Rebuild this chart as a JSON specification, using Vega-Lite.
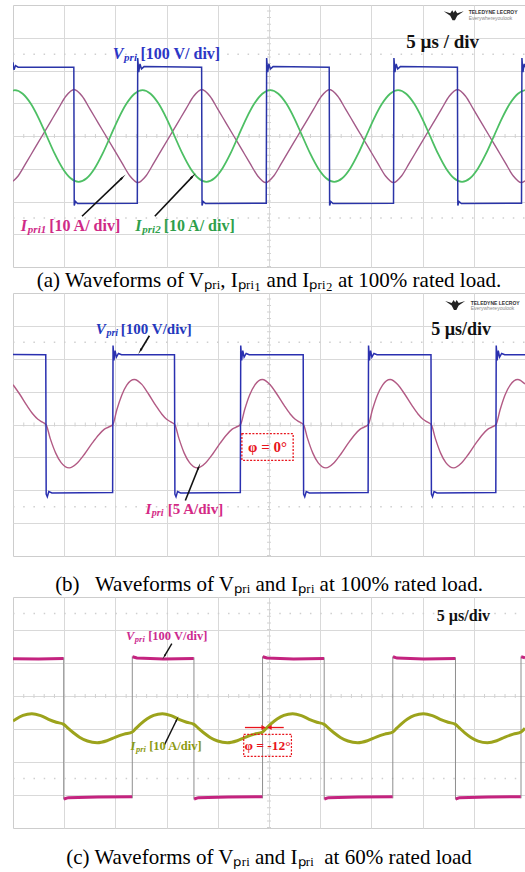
{
"$schema": "https://vega.github.io/schema/vega-lite/v6.json",
"background": "white",
"padding": {"left": 12, "top": 4, "right": 0, "bottom": 0},
"spacing": 0,
"config": {
  "view": {"stroke": "#cdcdcd", "strokeWidth": 1},
  "axis": {"domain": false, "ticks": false, "labels": false, "title": null, "grid": true, "gridColor": "#d9d9d9", "gridWidth": 1},
  "title": {"font": "Liberation Serif", "fontSize": 21, "fontWeight": "normal", "color": "#000000", "anchor": "middle"},
  "concat": {"spacing": 0}
},
"datasets": {
  "va": [
    {"t":0,"y":2.25},{"t":0.1,"y":2.02},{"t":0.25,"y":2.15},{"t":0.5,"y":2.1},{"t":5.94,"y":2.1},{"t":5.98,"y":-2.12},{"t":6.1,"y":-2.0},{"t":6.3,"y":-2.06},
    {"t":12.14,"y":-2.05},{"t":12.18,"y":2.38},{"t":12.28,"y":1.95},{"t":12.4,"y":2.2},{"t":12.55,"y":2.05},{"t":12.8,"y":2.12},
    {"t":18.42,"y":2.1},{"t":18.46,"y":-2.12},{"t":18.58,"y":-2.0},{"t":18.8,"y":-2.06},
    {"t":24.73,"y":-2.05},{"t":24.77,"y":2.38},{"t":24.87,"y":1.95},{"t":24.99,"y":2.2},{"t":25.14,"y":2.05},{"t":25.4,"y":2.12},
    {"t":30.88,"y":2.1},{"t":30.92,"y":-2.12},{"t":31.04,"y":-2.0},{"t":31.25,"y":-2.06},
    {"t":37.16,"y":-2.05},{"t":37.2,"y":2.38},{"t":37.3,"y":1.95},{"t":37.42,"y":2.2},{"t":37.57,"y":2.05},{"t":37.83,"y":2.12},
    {"t":43.4,"y":2.1},{"t":43.44,"y":-2.12},{"t":43.56,"y":-2.0},{"t":43.78,"y":-2.06},
    {"t":49.66,"y":-2.05},{"t":49.7,"y":2.38},{"t":49.8,"y":1.95},{"t":49.92,"y":2.2},{"t":50,"y":2.1}
  ],
  "i1a": [
    {"t":0,"y":-1.38},{"t":0.50,"y":-1.22},{"t":1.28,"y":-0.82},{"t":2.06,"y":-0.41},{"t":2.84,"y":0},{"t":3.62,"y":0.41},{"t":4.40,"y":0.82},{"t":5.18,"y":1.22},
    {"t":5.96,"y":1.42},{"t":6.74,"y":1.22},{"t":7.52,"y":0.82},{"t":8.30,"y":0.41},{"t":9.08,"y":0},{"t":9.86,"y":-0.41},{"t":10.64,"y":-0.82},{"t":11.42,"y":-1.22},
    {"t":12.20,"y":-1.42},{"t":12.98,"y":-1.22},{"t":13.76,"y":-0.82},{"t":14.54,"y":-0.41},{"t":15.32,"y":0},{"t":16.10,"y":0.41},{"t":16.88,"y":0.82},{"t":17.66,"y":1.22},
    {"t":18.44,"y":1.42},{"t":19.22,"y":1.22},{"t":20.00,"y":0.82},{"t":20.78,"y":0.41},{"t":21.56,"y":0},{"t":22.34,"y":-0.41},{"t":23.12,"y":-0.82},{"t":23.90,"y":-1.22},
    {"t":24.68,"y":-1.42},{"t":25.46,"y":-1.22},{"t":26.24,"y":-0.82},{"t":27.02,"y":-0.41},{"t":27.80,"y":0},{"t":28.58,"y":0.41},{"t":29.36,"y":0.82},{"t":30.14,"y":1.22},
    {"t":30.92,"y":1.42},{"t":31.70,"y":1.22},{"t":32.48,"y":0.82},{"t":33.26,"y":0.41},{"t":34.04,"y":0},{"t":34.82,"y":-0.41},{"t":35.60,"y":-0.82},{"t":36.38,"y":-1.22},
    {"t":37.16,"y":-1.42},{"t":37.94,"y":-1.22},{"t":38.72,"y":-0.82},{"t":39.50,"y":-0.41},{"t":40.28,"y":0},{"t":41.06,"y":0.41},{"t":41.84,"y":0.82},{"t":42.62,"y":1.22},
    {"t":43.40,"y":1.42},{"t":44.18,"y":1.22},{"t":44.96,"y":0.82},{"t":45.74,"y":0.41},{"t":46.52,"y":0},{"t":47.30,"y":-0.41},{"t":48.08,"y":-0.82},{"t":48.86,"y":-1.22},
    {"t":49.64,"y":-1.42},{"t":50,"y":-1.37}
  ],
  "i2a": [
    {"t":0,"y":1.38},{"t":0.17,"y":1.40},{"t":0.95,"y":1.29},{"t":1.73,"y":0.99},{"t":2.51,"y":0.54},{"t":3.29,"y":0},{"t":4.07,"y":-0.54},{"t":4.85,"y":-0.99},
    {"t":5.63,"y":-1.29},{"t":6.41,"y":-1.40},{"t":7.19,"y":-1.29},{"t":7.97,"y":-0.99},{"t":8.75,"y":-0.54},{"t":9.53,"y":0},{"t":10.31,"y":0.54},{"t":11.09,"y":0.99},
    {"t":11.87,"y":1.29},{"t":12.65,"y":1.40},{"t":13.43,"y":1.29},{"t":14.21,"y":0.99},{"t":14.99,"y":0.54},{"t":15.77,"y":0},{"t":16.55,"y":-0.54},{"t":17.33,"y":-0.99},
    {"t":18.11,"y":-1.29},{"t":18.89,"y":-1.40},{"t":19.67,"y":-1.29},{"t":20.45,"y":-0.99},{"t":21.23,"y":-0.54},{"t":22.01,"y":0},{"t":22.79,"y":0.54},{"t":23.57,"y":0.99},
    {"t":24.35,"y":1.29},{"t":25.13,"y":1.40},{"t":25.91,"y":1.29},{"t":26.69,"y":0.99},{"t":27.47,"y":0.54},{"t":28.25,"y":0},{"t":29.03,"y":-0.54},{"t":29.81,"y":-0.99},
    {"t":30.59,"y":-1.29},{"t":31.37,"y":-1.40},{"t":32.15,"y":-1.29},{"t":32.93,"y":-0.99},{"t":33.71,"y":-0.54},{"t":34.49,"y":0},{"t":35.27,"y":0.54},{"t":36.05,"y":0.99},
    {"t":36.83,"y":1.29},{"t":37.61,"y":1.40},{"t":38.39,"y":1.29},{"t":39.17,"y":0.99},{"t":39.95,"y":0.54},{"t":40.73,"y":0},{"t":41.51,"y":-0.54},{"t":42.29,"y":-0.99},
    {"t":43.07,"y":-1.29},{"t":43.85,"y":-1.40},{"t":44.63,"y":-1.29},{"t":45.41,"y":-0.99},{"t":46.19,"y":-0.54},{"t":46.97,"y":0},{"t":47.75,"y":0.54},{"t":48.53,"y":0.99},
    {"t":49.31,"y":1.29},{"t":50,"y":1.40}
  ],
  "vb": [
    {"t":0,"y":2.13},{"t":3.2,"y":2.12},{"t":3.24,"y":-2.12},{"t":3.35,"y":-2.2},{"t":3.5,"y":-2.04},{"t":3.8,"y":-2.08},
    {"t":9.73,"y":-2.07},{"t":9.77,"y":2.4},{"t":9.86,"y":1.95},{"t":9.97,"y":2.25},{"t":10.1,"y":2.05},{"t":10.3,"y":2.16},{"t":10.6,"y":2.12},
    {"t":15.77,"y":2.12},{"t":15.81,"y":-2.12},{"t":15.92,"y":-2.2},{"t":16.07,"y":-2.04},{"t":16.37,"y":-2.08},
    {"t":22.2,"y":-2.07},{"t":22.24,"y":2.4},{"t":22.33,"y":1.95},{"t":22.44,"y":2.25},{"t":22.57,"y":2.05},{"t":22.77,"y":2.16},{"t":23.07,"y":2.12},
    {"t":28.34,"y":2.12},{"t":28.38,"y":-2.12},{"t":28.49,"y":-2.2},{"t":28.64,"y":-2.04},{"t":28.94,"y":-2.08},
    {"t":34.68,"y":-2.07},{"t":34.72,"y":2.4},{"t":34.81,"y":1.95},{"t":34.92,"y":2.25},{"t":35.05,"y":2.05},{"t":35.25,"y":2.16},{"t":35.55,"y":2.12},
    {"t":40.82,"y":2.12},{"t":40.86,"y":-2.12},{"t":40.97,"y":-2.2},{"t":41.12,"y":-2.04},{"t":41.42,"y":-2.08},
    {"t":47.15,"y":-2.07},{"t":47.19,"y":2.4},{"t":47.28,"y":1.95},{"t":47.39,"y":2.25},{"t":47.52,"y":2.05},{"t":47.72,"y":2.16},{"t":48.02,"y":2.12},{"t":50,"y":2.12}
  ],
  "ib": [
    {"t":0,"y":1.21},{"t":0.66,"y":0.92},{"t":1.35,"y":0.58},{"t":1.94,"y":0.32},{"t":2.43,"y":0.16},{"t":2.82,"y":0.08},{"t":3.22,"y":0},
    {"t":3.64,"y":-0.43},{"t":4.17,"y":-0.87},{"t":4.70,"y":-1.16},{"t":5.49,"y":-1.32},{"t":6.28,"y":-1.17},{"t":7.01,"y":-0.89},{"t":7.75,"y":-0.56},{"t":8.38,"y":-0.31},{"t":8.90,"y":-0.15},{"t":9.33,"y":-0.08},{"t":9.75,"y":0},
    {"t":10.14,"y":0.45},{"t":10.63,"y":0.90},{"t":11.11,"y":1.20},{"t":11.85,"y":1.37},{"t":12.58,"y":1.22},{"t":13.25,"y":0.92},{"t":13.94,"y":0.58},{"t":14.52,"y":0.32},{"t":15.00,"y":0.16},{"t":15.40,"y":0.08},{"t":15.79,"y":0},
    {"t":16.21,"y":-0.43},{"t":16.72,"y":-0.87},{"t":17.24,"y":-1.16},{"t":18.02,"y":-1.32},{"t":18.80,"y":-1.17},{"t":19.52,"y":-0.89},{"t":20.25,"y":-0.56},{"t":20.87,"y":-0.31},{"t":21.38,"y":-0.15},{"t":21.80,"y":-0.08},{"t":22.22,"y":0},
    {"t":22.62,"y":0.45},{"t":23.11,"y":0.90},{"t":23.61,"y":1.20},{"t":24.35,"y":1.37},{"t":25.09,"y":1.22},{"t":25.78,"y":0.92},{"t":26.48,"y":0.58},{"t":27.07,"y":0.32},{"t":27.56,"y":0.16},{"t":27.96,"y":0.08},{"t":28.36,"y":0},
    {"t":28.77,"y":-0.43},{"t":29.28,"y":-0.87},{"t":29.79,"y":-1.16},{"t":30.56,"y":-1.32},{"t":31.33,"y":-1.17},{"t":32.04,"y":-0.89},{"t":32.76,"y":-0.56},{"t":33.37,"y":-0.31},{"t":33.88,"y":-0.15},{"t":34.29,"y":-0.08},{"t":34.70,"y":0},
    {"t":35.10,"y":0.45},{"t":35.59,"y":0.90},{"t":36.09,"y":1.20},{"t":36.83,"y":1.37},{"t":37.57,"y":1.22},{"t":38.26,"y":0.92},{"t":38.96,"y":0.58},{"t":39.55,"y":0.32},{"t":40.04,"y":0.16},{"t":40.44,"y":0.08},{"t":40.84,"y":0},
    {"t":41.25,"y":-0.43},{"t":41.76,"y":-0.87},{"t":42.27,"y":-1.16},{"t":43.04,"y":-1.32},{"t":43.80,"y":-1.17},{"t":44.51,"y":-0.89},{"t":45.23,"y":-0.56},{"t":45.84,"y":-0.31},{"t":46.35,"y":-0.15},{"t":46.76,"y":-0.08},{"t":47.17,"y":0},
    {"t":47.57,"y":0.45},{"t":48.05,"y":0.90},{"t":48.55,"y":1.20},{"t":49.29,"y":1.37},{"t":50,"y":1.23}
  ],
  "vc": [
    {"seg":0,"t":0,"y":1.13},{"seg":0,"t":2.5,"y":1.12},{"seg":0,"t":4.93,"y":1.14},
    {"seg":1,"t":4.97,"y":-3.12},{"seg":1,"t":5.4,"y":-3.08},{"seg":1,"t":8.3,"y":-3.06},{"seg":1,"t":11.63,"y":-3.05},
    {"seg":2,"t":11.67,"y":1.19},{"seg":2,"t":12.1,"y":1.15},{"seg":2,"t":14.7,"y":1.12},{"seg":2,"t":17.65,"y":1.14},
    {"seg":3,"t":17.69,"y":-3.12},{"seg":3,"t":18.1,"y":-3.08},{"seg":3,"t":21.0,"y":-3.06},{"seg":3,"t":24.35,"y":-3.05},
    {"seg":4,"t":24.39,"y":1.19},{"seg":4,"t":24.8,"y":1.15},{"seg":4,"t":27.4,"y":1.12},{"seg":4,"t":30.37,"y":1.14},
    {"seg":5,"t":30.41,"y":-3.12},{"seg":5,"t":30.8,"y":-3.08},{"seg":5,"t":33.7,"y":-3.06},{"seg":5,"t":37.07,"y":-3.05},
    {"seg":6,"t":37.11,"y":1.19},{"seg":6,"t":37.5,"y":1.15},{"seg":6,"t":40.1,"y":1.12},{"seg":6,"t":43.19,"y":1.14},
    {"seg":7,"t":43.23,"y":-3.12},{"seg":7,"t":43.6,"y":-3.08},{"seg":7,"t":46.4,"y":-3.06},{"seg":7,"t":49.59,"y":-3.05},
    {"seg":8,"t":49.63,"y":1.19},{"seg":8,"t":50,"y":1.16}
  ],
  "ec": [
    {"t":4.95,"y":1.17,"y2":-3.14},{"t":11.65,"y":1.2,"y2":-3.1},{"t":17.67,"y":1.17,"y2":-3.14},{"t":24.37,"y":1.2,"y2":-3.1},
    {"t":30.39,"y":1.17,"y2":-3.14},{"t":37.09,"y":1.2,"y2":-3.1},{"t":43.21,"y":1.17,"y2":-3.14},{"t":49.61,"y":1.2,"y2":-3.1}
  ],
  "ic": [
    {"t":0,"y":-0.76},{"t":0.31,"y":-0.695},{"t":0.98,"y":-0.585},{"t":1.84,"y":-0.535},{"t":2.70,"y":-0.595},{"t":3.47,"y":-0.705},{"t":4.23,"y":-0.795},{"t":4.95,"y":-0.86},
    {"t":5.37,"y":-0.975},{"t":5.90,"y":-1.115},{"t":6.53,"y":-1.255},{"t":7.27,"y":-1.365},{"t":8.22,"y":-1.415},{"t":9.17,"y":-1.355},{"t":10.02,"y":-1.245},{"t":10.86,"y":-1.155},{"t":11.65,"y":-1.09},
    {"t":12.03,"y":-0.975},{"t":12.50,"y":-0.835},{"t":13.07,"y":-0.695},{"t":13.73,"y":-0.585},{"t":14.59,"y":-0.535},{"t":15.44,"y":-0.595},{"t":16.20,"y":-0.705},{"t":16.96,"y":-0.795},{"t":17.67,"y":-0.86},
    {"t":18.09,"y":-0.975},{"t":18.62,"y":-1.115},{"t":19.25,"y":-1.255},{"t":19.99,"y":-1.365},{"t":20.94,"y":-1.415},{"t":21.89,"y":-1.355},{"t":22.74,"y":-1.245},{"t":23.58,"y":-1.155},{"t":24.37,"y":-1.09},
    {"t":24.75,"y":-0.975},{"t":25.22,"y":-0.835},{"t":25.79,"y":-0.695},{"t":26.45,"y":-0.585},{"t":27.31,"y":-0.535},{"t":28.16,"y":-0.595},{"t":28.92,"y":-0.705},{"t":29.68,"y":-0.795},{"t":30.39,"y":-0.86},
    {"t":30.81,"y":-0.975},{"t":31.34,"y":-1.115},{"t":31.97,"y":-1.255},{"t":32.71,"y":-1.365},{"t":33.66,"y":-1.415},{"t":34.61,"y":-1.355},{"t":35.46,"y":-1.245},{"t":36.30,"y":-1.155},{"t":37.09,"y":-1.09},
    {"t":37.48,"y":-0.975},{"t":37.96,"y":-0.835},{"t":38.53,"y":-0.695},{"t":39.21,"y":-0.585},{"t":40.08,"y":-0.535},{"t":40.95,"y":-0.595},{"t":41.72,"y":-0.705},{"t":42.49,"y":-0.795},{"t":43.21,"y":-0.86},
    {"t":43.61,"y":-0.975},{"t":44.12,"y":-1.115},{"t":44.72,"y":-1.255},{"t":45.42,"y":-1.365},{"t":46.33,"y":-1.415},{"t":47.24,"y":-1.355},{"t":48.05,"y":-1.245},{"t":48.86,"y":-1.155},{"t":49.61,"y":-1.09},
    {"t":50,"y":-0.98}
  ]
},
"vconcat": [
{
  "width": 512, "height": 262,
  "title": {"text": "(a) Waveforms of V\u209a\u1d63\u1d62, I\u209a\u1d63\u1d62\u2081 and I\u209a\u1d63\u1d62\u2082 at 100% rated load.", "orient": "bottom", "offset": 3},
  "encoding": {
    "x": {"field": "t", "type": "quantitative", "scale": {"domain": [0, 50], "nice": false, "zero": false}, "axis": {"values": [5,10,15,20,25,30,35,40,45]}},
    "y": {"field": "y", "type": "quantitative", "scale": {"domain": [-4, 4], "nice": false, "zero": false}, "axis": {"values": [-3,-2,-1,0,1,2,3]}}
  },
  "layer": [
    {"data": {"values": [{"y": 2.5, "t": 0, "t2": 50}, {"y": -2.5, "t": 0, "t2": 50}]}, "mark": {"type": "rule", "color": "#cfcfcf", "strokeWidth": 1.5, "strokeDash": [1.5, 8.7], "clip": true},
     "encoding": {"x2": {"field": "t2"}}},
    {"data": {"values": [{"y": 0, "t": 0, "t2": 50}]}, "mark": {"type": "rule", "color": "#d2d2d2", "strokeWidth": 4, "strokeDash": [1, 9.24], "clip": true},
     "encoding": {"x2": {"field": "t2"}}},
    {"data": {"values": [{"t": 25, "y": -4, "y2": 4}]}, "mark": {"type": "rule", "color": "#d2d2d2", "strokeWidth": 4, "strokeDash": [1, 5.55], "clip": true},
     "encoding": {"y2": {"field": "y2"}}},
    {"data": {"name": "i1a"}, "mark": {"type": "line", "color": "#a35a88", "strokeWidth": 1.4, "interpolate": "monotone", "clip": true}, "encoding": {}},
    {"data": {"name": "i2a"}, "mark": {"type": "line", "color": "#4dbf64", "strokeWidth": 1.8, "interpolate": "monotone", "clip": true}, "encoding": {}},
    {"data": {"name": "va"}, "mark": {"type": "line", "color": "#2a34a8", "strokeWidth": 1.5, "clip": true}, "encoding": {}},
    {"data": {"values": [{"t": 10.66, "y": -1.28, "t0": 6.74, "y0": -2.45}]},
     "layer": [
       {"mark": {"type": "rule", "color": "#111111", "strokeWidth": 1.6}, "encoding": {"x2": {"field": "t0"}, "y2": {"field": "y0"}}},
       {"mark": {"type": "point", "shape": "wedge", "angle": 46, "size": 70, "filled": true, "color": "#111111", "opacity": 1}}
     ]},
    {"data": {"values": [{"t": 17.52, "y": -1.24, "t0": 13.85, "y0": -2.45}]},
     "layer": [
       {"mark": {"type": "rule", "color": "#111111", "strokeWidth": 1.6}, "encoding": {"x2": {"field": "t0"}, "y2": {"field": "y0"}}},
       {"mark": {"type": "point", "shape": "wedge", "angle": 44, "size": 70, "filled": true, "color": "#111111", "opacity": 1}}
     ]},
    {"data": {"values": [{"t": 10.78, "y": 2.5, "label": "V", "s": "Va"}, {"t": 1.37, "y": -2.75, "label": "I", "s": "I1a"}, {"t": 12.55, "y": -2.75, "label": "I", "s": "I2a"}]},
     "mark": {"type": "text", "align": "right", "baseline": "middle", "font": "Liberation Serif", "fontSize": 16, "fontStyle": "italic", "fontWeight": "bold"},
     "encoding": {"text": {"field": "label"}, "color": {"field": "s", "type": "nominal", "legend": null, "scale": {"domain": ["Va","I1a","I2a","Vb","Ib","Vc","Ic","red","blk"], "range": ["#2c36c6","#cf2a87","#2f9f4b","#2438bd","#d42a85","#cc2a90","#8c9a12","#e8141c","#111111"]}}}},
    {"data": {"values": [{"t": 10.85, "y": 2.5, "label": "pri", "s": "Va"}, {"t": 1.45, "y": -2.75, "label": "pri1", "s": "I1a"}, {"t": 12.63, "y": -2.75, "label": "pri2", "s": "I2a"}]},
     "mark": {"type": "text", "align": "left", "baseline": "middle", "dy": 4, "font": "Liberation Serif", "fontSize": 11, "fontStyle": "italic", "fontWeight": "bold"},
     "encoding": {"text": {"field": "label"}, "color": {"field": "s", "type": "nominal", "legend": null, "scale": {"domain": ["Va","I1a","I2a","Vb","Ib","Vc","Ic","red","blk"], "range": ["#2c36c6","#cf2a87","#2f9f4b","#2438bd","#d42a85","#cc2a90","#8c9a12","#e8141c","#111111"]}}}},
    {"data": {"values": [{"t": 12.45, "y": 2.5, "label": "[100 V/ div]", "s": "Va"}, {"t": 3.53, "y": -2.75, "label": "[10 A/ div]", "s": "I1a"}, {"t": 14.71, "y": -2.75, "label": "[10 A/ div]", "s": "I2a"}]},
     "mark": {"type": "text", "align": "left", "baseline": "middle", "font": "Liberation Serif", "fontSize": 16, "fontWeight": "bold"},
     "encoding": {"text": {"field": "label"}, "color": {"field": "s", "type": "nominal", "legend": null, "scale": {"domain": ["Va","I1a","I2a","Vb","Ib","Vc","Ic","red","blk"], "range": ["#2c36c6","#cf2a87","#2f9f4b","#2438bd","#d42a85","#cc2a90","#8c9a12","#e8141c","#111111"]}}}},
    {"data": {"values": [{"t": 41.96, "y": 2.87, "label": "5 \u00b5s / div"}]}, "mark": {"type": "text", "align": "center", "baseline": "middle", "font": "Liberation Serif", "fontSize": 19, "fontWeight": "bold", "color": "#111111"}, "encoding": {"text": {"field": "label"}}},
    {"data": {"values": [{"t": 43.04, "y": 3.7}]}, "mark": {"type": "point", "shape": "M-1,-0.35 L-0.35,-0.15 L-0.15,-0.45 L0,-0.2 L0.15,-0.45 L0.35,-0.15 L1,-0.35 L0.35,0.1 L0.12,0.55 L-0.12,0.55 L-0.35,0.1 Z", "size": 400, "filled": true, "color": "#222222", "opacity": 1}},
    {"data": {"values": [{"t": 44.5, "y": 3.79, "label": "TELEDYNE LECROY"}]}, "mark": {"type": "text", "align": "left", "baseline": "middle", "font": "Liberation Sans", "fontSize": 5, "fontWeight": "bold", "color": "#333333"}, "encoding": {"text": {"field": "label"}}},
    {"data": {"values": [{"t": 44.5, "y": 3.6, "label": "Everywhereyoulook"}]}, "mark": {"type": "text", "align": "left", "baseline": "middle", "font": "Liberation Sans", "fontSize": 5, "color": "#8a8a8a"}, "encoding": {"text": {"field": "label"}}}
  ]
},
{
  "width": 512, "height": 263,
  "title": {"text": "(b)\u00a0\u00a0 Waveforms of V\u209a\u1d63\u1d62 and I\u209a\u1d63\u1d62 at 100% rated load.", "orient": "bottom", "offset": 18},
  "encoding": {
    "x": {"field": "t", "type": "quantitative", "scale": {"domain": [0, 50], "nice": false, "zero": false}, "axis": {"values": [5,10,15,20,25,30,35,40,45]}},
    "y": {"field": "y", "type": "quantitative", "scale": {"domain": [-4, 4], "nice": false, "zero": false}, "axis": {"values": [-3,-2,-1,0,1,2,3]}}
  },
  "layer": [
    {"data": {"values": [{"y": 2.5, "t": 0, "t2": 50}, {"y": -2.5, "t": 0, "t2": 50}]}, "mark": {"type": "rule", "color": "#cfcfcf", "strokeWidth": 1.5, "strokeDash": [1.5, 8.7], "clip": true},
     "encoding": {"x2": {"field": "t2"}}},
    {"data": {"values": [{"y": 0, "t": 0, "t2": 50}]}, "mark": {"type": "rule", "color": "#d2d2d2", "strokeWidth": 4, "strokeDash": [1, 9.26], "clip": true},
     "encoding": {"x2": {"field": "t2"}}},
    {"data": {"values": [{"t": 25, "y": -4, "y2": 4}]}, "mark": {"type": "rule", "color": "#d2d2d2", "strokeWidth": 4, "strokeDash": [1, 5.58], "clip": true},
     "encoding": {"y2": {"field": "y2"}}},
    {"data": {"name": "ib"}, "mark": {"type": "line", "color": "#b25a84", "strokeWidth": 1.4, "interpolate": "monotone", "clip": true}, "encoding": {}},
    {"data": {"name": "vb"}, "mark": {"type": "line", "color": "#2a30b0", "strokeWidth": 1.5, "clip": true}, "encoding": {}},
    {"data": {"values": [{"t": 22.35, "t2": 27.36, "y": -0.28, "y2": -1.09}]}, "mark": {"type": "rect", "filled": false, "stroke": "#e8141c", "strokeWidth": 1.3, "strokeDash": [2, 1.5]},
     "encoding": {"x2": {"field": "t2"}, "y2": {"field": "y2"}}},
    {"data": {"values": [{"t": 12.45, "y": 2.25, "t0": 13.32, "y0": 2.70}]},
     "layer": [
       {"mark": {"type": "rule", "color": "#111111", "strokeWidth": 1.6}, "encoding": {"x2": {"field": "t0"}, "y2": {"field": "y0"}}},
       {"mark": {"type": "point", "shape": "wedge", "angle": 211, "size": 60, "filled": true, "color": "#111111", "opacity": 1}}
     ]},
    {"data": {"values": [{"t": 18.13, "y": -1.30, "t0": 16.83, "y0": -2.31}]},
     "layer": [
       {"mark": {"type": "rule", "color": "#111111", "strokeWidth": 1.6}, "encoding": {"x2": {"field": "t0"}, "y2": {"field": "y0"}}},
       {"mark": {"type": "point", "shape": "wedge", "angle": 22, "size": 60, "filled": true, "color": "#111111", "opacity": 1}}
     ]},
    {"data": {"values": [{"t": 9.06, "y": 2.9, "label": "V", "s": "Vb"}, {"t": 13.5, "y": -2.57, "label": "I", "s": "Ib"}]},
     "mark": {"type": "text", "align": "right", "baseline": "middle", "font": "Liberation Serif", "fontSize": 15, "fontStyle": "italic", "fontWeight": "bold"},
     "encoding": {"text": {"field": "label"}, "color": {"field": "s", "type": "nominal", "legend": null, "scale": {"domain": ["Va","I1a","I2a","Vb","Ib","Vc","Ic","red","blk"], "range": ["#2c36c6","#cf2a87","#2f9f4b","#2438bd","#d42a85","#cc2a90","#8c9a12","#e8141c","#111111"]}}}},
    {"data": {"values": [{"t": 9.12, "y": 2.9, "label": "pri", "s": "Vb"}, {"t": 13.56, "y": -2.57, "label": "pri", "s": "Ib"}]},
     "mark": {"type": "text", "align": "left", "baseline": "middle", "dy": 4, "font": "Liberation Serif", "fontSize": 10, "fontStyle": "italic", "fontWeight": "bold"},
     "encoding": {"text": {"field": "label"}, "color": {"field": "s", "type": "nominal", "legend": null, "scale": {"domain": ["Va","I1a","I2a","Vb","Ib","Vc","Ic","red","blk"], "range": ["#2c36c6","#cf2a87","#2f9f4b","#2438bd","#d42a85","#cc2a90","#8c9a12","#e8141c","#111111"]}}}},
    {"data": {"values": [{"t": 10.53, "y": 2.9, "label": "[100 V/div]", "s": "Vb"}, {"t": 15.11, "y": -2.57, "label": "[5 A/div]", "s": "Ib"}]},
     "mark": {"type": "text", "align": "left", "baseline": "middle", "font": "Liberation Serif", "fontSize": 15, "fontWeight": "bold"},
     "encoding": {"text": {"field": "label"}, "color": {"field": "s", "type": "nominal", "legend": null, "scale": {"domain": ["Va","I1a","I2a","Vb","Ib","Vc","Ic","red","blk"], "range": ["#2c36c6","#cf2a87","#2f9f4b","#2438bd","#d42a85","#cc2a90","#8c9a12","#e8141c","#111111"]}}}},
    {"data": {"values": [{"t": 43.76, "y": 2.86, "label": "5 \u00b5s/div"}]}, "mark": {"type": "text", "align": "center", "baseline": "middle", "font": "Liberation Serif", "fontSize": 18, "fontWeight": "bold", "color": "#111111"}, "encoding": {"text": {"field": "label"}}},
    {"data": {"values": [{"t": 24.86, "y": -0.69, "label": "\u03c6 = 0\u00b0"}]}, "mark": {"type": "text", "align": "center", "baseline": "middle", "font": "Liberation Serif", "fontSize": 15, "fontWeight": "bold", "color": "#e8141c"}, "encoding": {"text": {"field": "label"}}},
    {"data": {"values": [{"t": 43.18, "y": 3.65}]}, "mark": {"type": "point", "shape": "M-1,-0.35 L-0.35,-0.15 L-0.15,-0.45 L0,-0.2 L0.15,-0.45 L0.35,-0.15 L1,-0.35 L0.35,0.1 L0.12,0.55 L-0.12,0.55 L-0.35,0.1 Z", "size": 400, "filled": true, "color": "#222222", "opacity": 1}},
    {"data": {"values": [{"t": 44.7, "y": 3.71, "label": "TELEDYNE LECROY"}]}, "mark": {"type": "text", "align": "left", "baseline": "middle", "font": "Liberation Sans", "fontSize": 5, "fontWeight": "bold", "color": "#333333"}, "encoding": {"text": {"field": "label"}}},
    {"data": {"values": [{"t": 44.7, "y": 3.53, "label": "Everywhereyoulook"}]}, "mark": {"type": "text", "align": "left", "baseline": "middle", "font": "Liberation Sans", "fontSize": 5, "color": "#8a8a8a"}, "encoding": {"text": {"field": "label"}}}
  ]
},
{
  "width": 512, "height": 231,
  "title": {"text": "(c) Waveforms of V\u209a\u1d63\u1d62 and I\u209a\u1d63\u1d62\u00a0\u00a0at 60% rated load", "orient": "bottom", "offset": 19},
  "encoding": {
    "x": {"field": "t", "type": "quantitative", "scale": {"domain": [0, 50], "nice": false, "zero": false}, "axis": {"values": [5,10,15,20,25,30,35,40,45]}},
    "y": {"field": "y", "type": "quantitative", "scale": {"domain": [-4, 3], "nice": false, "zero": false}, "axis": {"values": [-3,-2,-1,0,1,2]}}
  },
  "layer": [
    {"data": {"values": [{"y": 2.5, "t": 0, "t2": 50}, {"y": -2.5, "t": 0, "t2": 50}]}, "mark": {"type": "rule", "color": "#cfcfcf", "strokeWidth": 1.5, "strokeDash": [1.5, 8.74], "clip": true},
     "encoding": {"x2": {"field": "t2"}}},
    {"data": {"values": [{"y": 0, "t": 0, "t2": 50}]}, "mark": {"type": "rule", "color": "#d2d2d2", "strokeWidth": 4, "strokeDash": [1, 9.24], "clip": true},
     "encoding": {"x2": {"field": "t2"}}},
    {"data": {"values": [{"t": 25, "y": -4, "y2": 3}]}, "mark": {"type": "rule", "color": "#d2d2d2", "strokeWidth": 4, "strokeDash": [1, 5.6], "clip": true},
     "encoding": {"y2": {"field": "y2"}}},
    {"data": {"name": "ec"}, "mark": {"type": "rule", "color": "#8e8e8e", "strokeWidth": 1, "clip": true},
     "encoding": {"y2": {"field": "y2"}}},
    {"data": {"name": "vc"}, "mark": {"type": "line", "color": "#c4237f", "strokeWidth": 3, "clip": true}, "encoding": {"detail": {"field": "seg", "type": "nominal"}}},
    {"data": {"name": "ic"}, "mark": {"type": "line", "color": "#9ca31c", "strokeWidth": 3, "interpolate": "monotone", "clip": true}, "encoding": {}},
    {"data": {"values": [{"t": 22.53, "t2": 27.19, "y": -1.16, "y2": -1.83}]}, "mark": {"type": "rect", "filled": false, "stroke": "#e8141c", "strokeWidth": 1.2, "strokeDash": [2, 1.5]},
     "encoding": {"x2": {"field": "t2"}, "y2": {"field": "y2"}}},
    {"data": {"values": [{"t": 14.79, "y": 1.21, "t0": 15.51, "y0": 1.59}]},
     "layer": [
       {"mark": {"type": "rule", "color": "#111111", "strokeWidth": 1.4}, "encoding": {"x2": {"field": "t0"}, "y2": {"field": "y0"}}},
       {"mark": {"type": "point", "shape": "wedge", "angle": 211, "size": 45, "filled": true, "color": "#111111", "opacity": 1}}
     ]},
    {"data": {"values": [{"t": 15.99, "y": -0.72, "t0": 14.79, "y0": -1.48}]},
     "layer": [
       {"mark": {"type": "rule", "color": "#111111", "strokeWidth": 1.4}, "encoding": {"x2": {"field": "t0"}, "y2": {"field": "y0"}}},
       {"mark": {"type": "point", "shape": "wedge", "angle": 26, "size": 45, "filled": true, "color": "#111111", "opacity": 1}}
     ]},
    {"data": {"values": [{"t": 24.40, "y": -0.955, "t0": 22.65, "y0": -0.955}]},
     "layer": [
       {"mark": {"type": "rule", "color": "#e8141c", "strokeWidth": 1.3}, "encoding": {"x2": {"field": "t0"}, "y2": {"field": "y0"}}},
       {"mark": {"type": "point", "shape": "triangle", "angle": 90, "size": 25, "filled": true, "color": "#e8141c", "opacity": 1}}
     ]},
    {"data": {"values": [{"t": 25.12, "y": -0.955, "t0": 26.44, "y0": -0.955}]},
     "layer": [
       {"mark": {"type": "rule", "color": "#e8141c", "strokeWidth": 1.3}, "encoding": {"x2": {"field": "t0"}, "y2": {"field": "y0"}}},
       {"mark": {"type": "point", "shape": "triangle", "angle": 270, "size": 25, "filled": true, "color": "#e8141c", "opacity": 1}}
     ]},
    {"data": {"values": [{"t": 11.85, "y": 1.81, "label": "V", "s": "Vc"}, {"t": 11.94, "y": -1.51, "label": "I", "s": "Ic"}]},
     "mark": {"type": "text", "align": "right", "baseline": "middle", "font": "Liberation Serif", "fontSize": 12.5, "fontStyle": "italic", "fontWeight": "bold"},
     "encoding": {"text": {"field": "label"}, "color": {"field": "s", "type": "nominal", "legend": null, "scale": {"domain": ["Va","I1a","I2a","Vb","Ib","Vc","Ic","red","blk"], "range": ["#2c36c6","#cf2a87","#2f9f4b","#2438bd","#d42a85","#cc2a90","#8c9a12","#e8141c","#111111"]}}}},
    {"data": {"values": [{"t": 11.9, "y": 1.81, "label": "pri", "s": "Vc"}, {"t": 12.0, "y": -1.51, "label": "pri", "s": "Ic"}]},
     "mark": {"type": "text", "align": "left", "baseline": "middle", "dy": 3, "font": "Liberation Serif", "fontSize": 8.5, "fontStyle": "italic", "fontWeight": "bold"},
     "encoding": {"text": {"field": "label"}, "color": {"field": "s", "type": "nominal", "legend": null, "scale": {"domain": ["Va","I1a","I2a","Vb","Ib","Vc","Ic","red","blk"], "range": ["#2c36c6","#cf2a87","#2f9f4b","#2438bd","#d42a85","#cc2a90","#8c9a12","#e8141c","#111111"]}}}},
    {"data": {"values": [{"t": 13.2, "y": 1.81, "label": "[100 V/div]", "s": "Vc"}, {"t": 13.3, "y": -1.51, "label": "[10 A/div]", "s": "Ic"}]},
     "mark": {"type": "text", "align": "left", "baseline": "middle", "font": "Liberation Serif", "fontSize": 12.5, "fontWeight": "bold"},
     "encoding": {"text": {"field": "label"}, "color": {"field": "s", "type": "nominal", "legend": null, "scale": {"domain": ["Va","I1a","I2a","Vb","Ib","Vc","Ic","red","blk"], "range": ["#2c36c6","#cf2a87","#2f9f4b","#2438bd","#d42a85","#cc2a90","#8c9a12","#e8141c","#111111"]}}}},
    {"data": {"values": [{"t": 43.99, "y": 2.41, "label": "5 \u00b5s/div"}]}, "mark": {"type": "text", "align": "center", "baseline": "middle", "font": "Liberation Serif", "fontSize": 16, "fontWeight": "bold", "color": "#111111"}, "encoding": {"text": {"field": "label"}}},
    {"data": {"values": [{"t": 24.86, "y": -1.5, "label": "\u03c6 = -12\u00b0"}]}, "mark": {"type": "text", "align": "center", "baseline": "middle", "font": "Liberation Serif", "fontSize": 13.5, "fontWeight": "bold", "color": "#e8141c"}, "encoding": {"text": {"field": "label"}}}
  ]
}
]
}
